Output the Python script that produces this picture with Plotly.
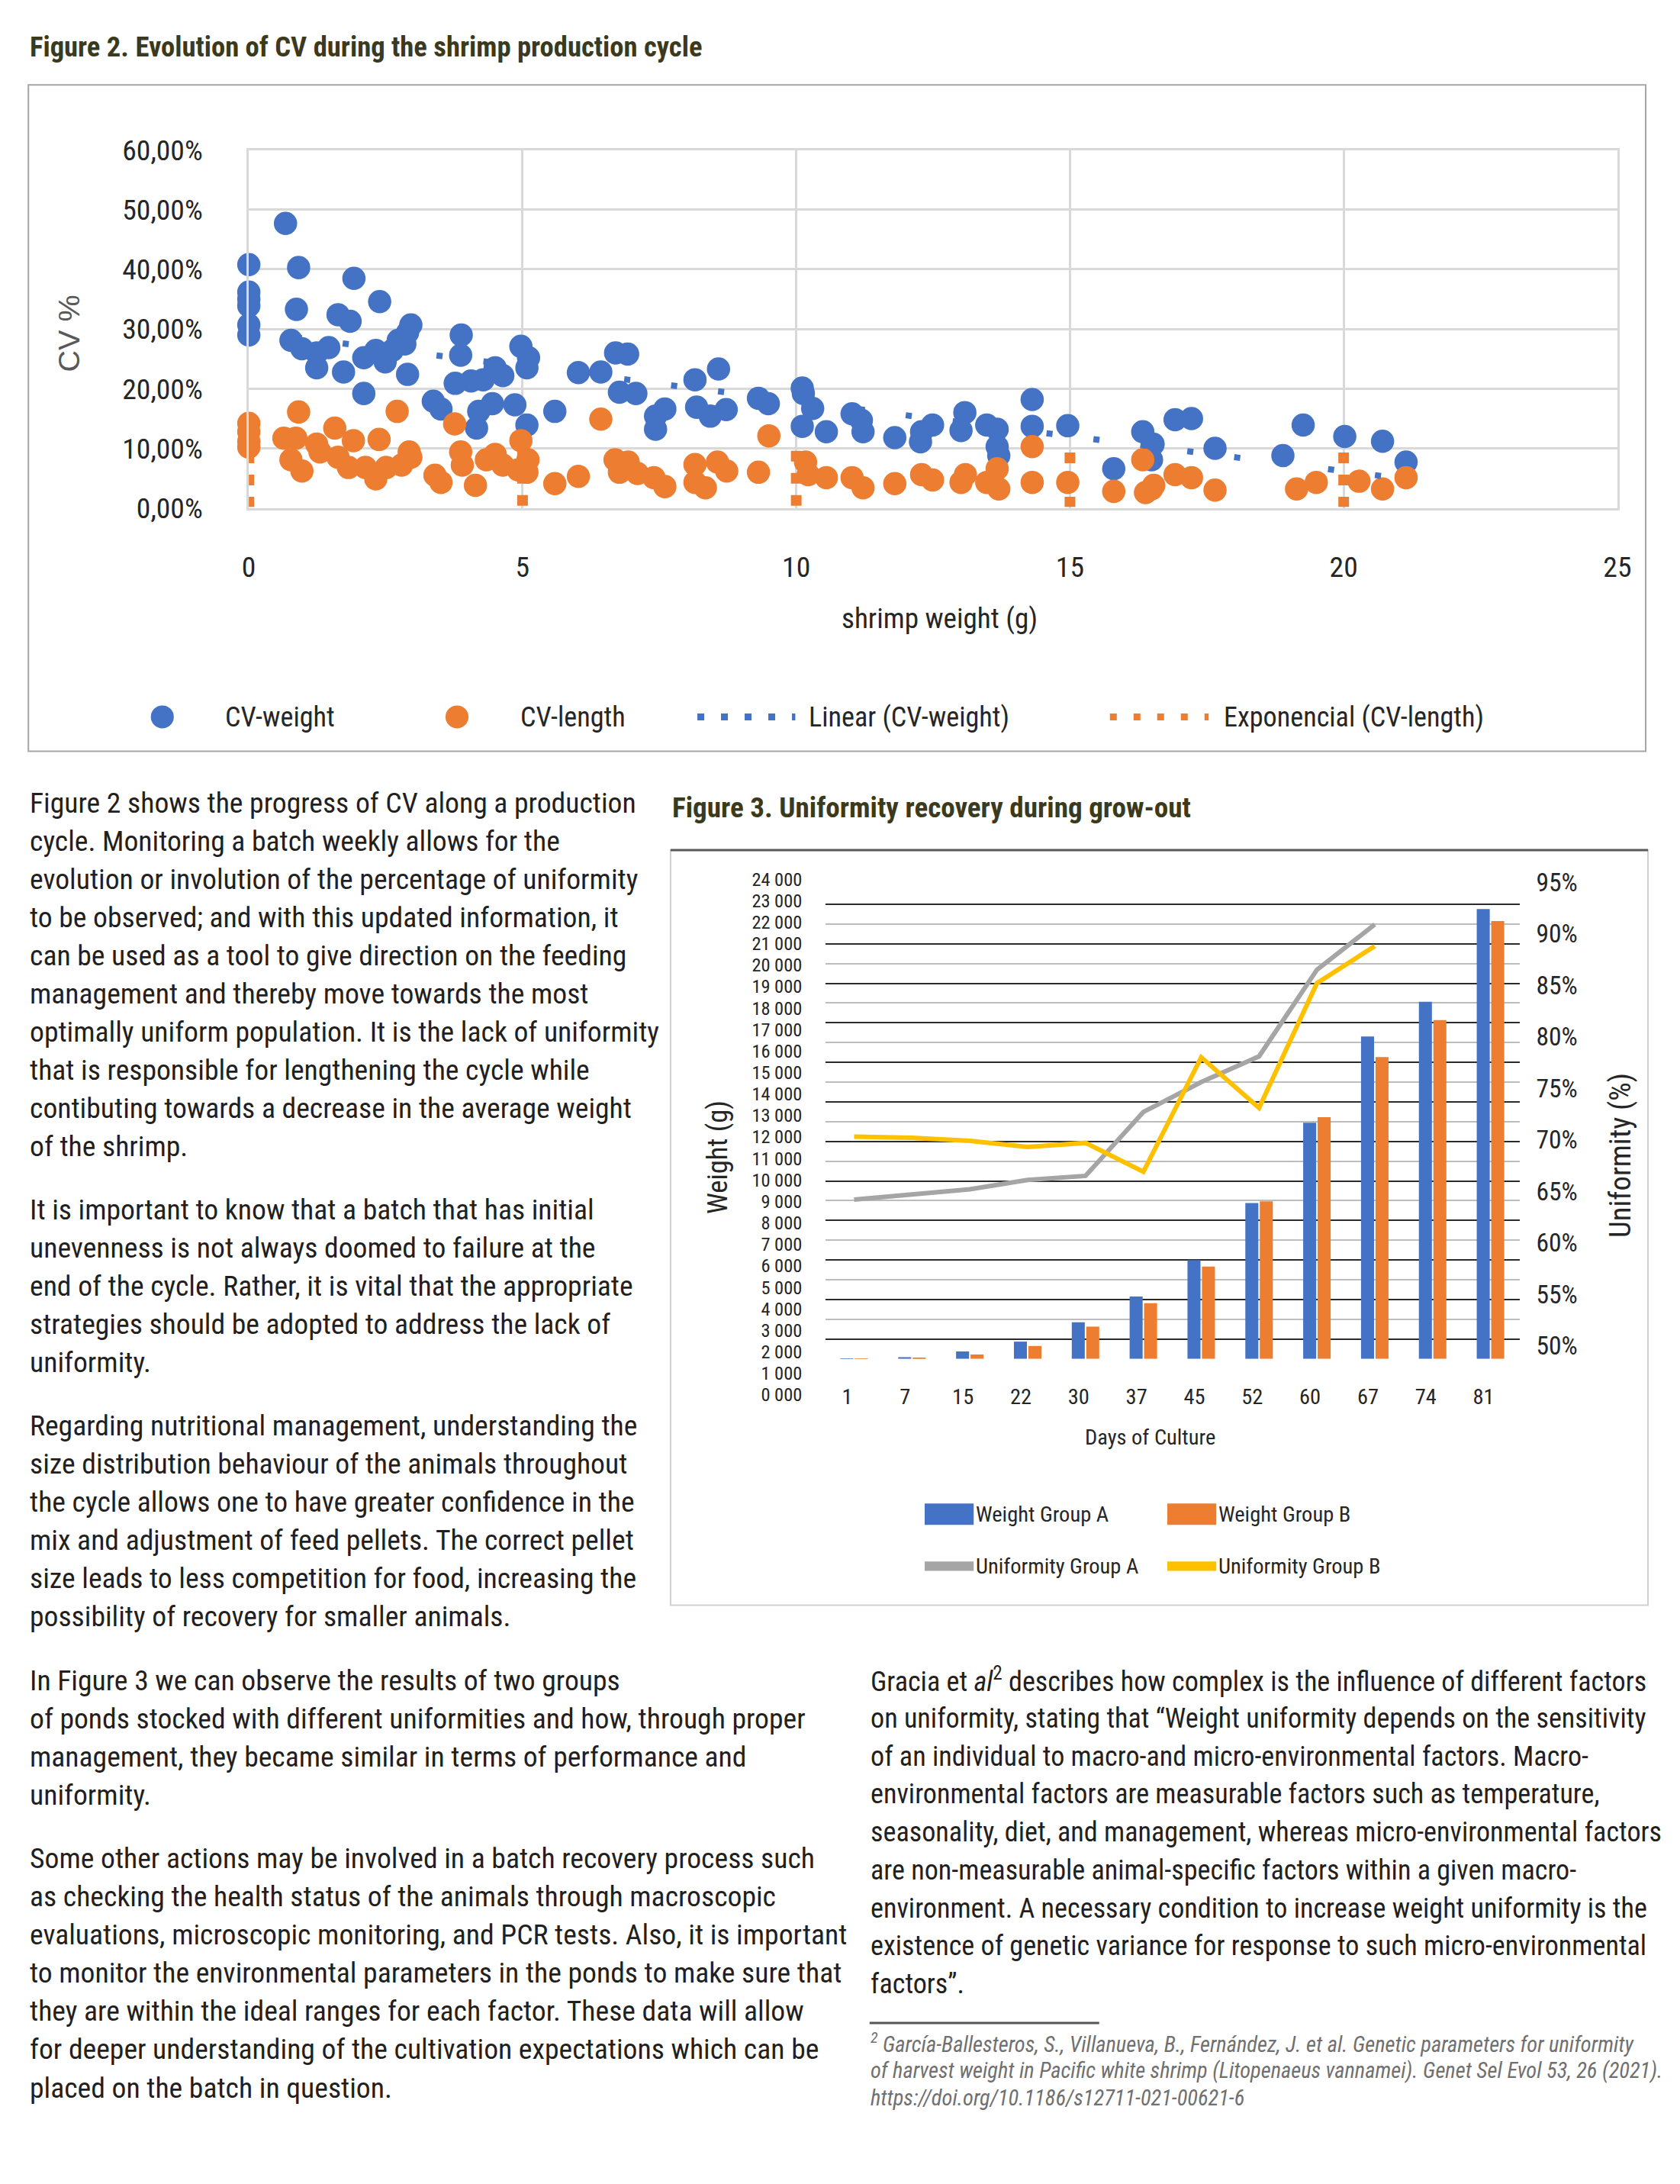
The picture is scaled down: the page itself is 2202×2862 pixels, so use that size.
import plotly.graph_objects as go

# The page is 2202 x 2862 and the html body adds an 8 px margin, so the figure is 16 px
# smaller.  The photographed page is also slightly reduced and offset; positions below are
# given in reference-picture pixels and mapped back through that reduction.
BODY_MARGIN = 8
W, H = 2202 - 2 * BODY_MARGIN, 2862 - 2 * BODY_MARGIN
SX, SY = 0.984, 0.982      # reduction of the photograph
OX, OY = 10.0, 21.0        # offset of the photograph
K = 1 / 0.983              # size correction for the reduction


def px(x):
    return ((x - OX) / SX - BODY_MARGIN) / W


def py(y):
    return 1 - ((y - OY) / SY - BODY_MARGIN) / H


def s(v):
    return v * K


# ---------------- Figure 2 data (CV % vs shrimp weight) ----------------
cvw_x = [0, 0, 0, 0, 0, 0,
         0.67, 0.91, 0.87, 1.92, 2.39, 1.63, 1.85, 2.96, 2.9, 0.77, 0.97, 1.24, 1.46, 1.24,
         1.73, 2.1, 2.32, 2.49, 2.62, 2.73, 2.85, 2.9, 2.1, 3.88, 3.87, 3.77, 4.06, 4.28, 4.5,
         4.64, 3.37, 3.51, 4.2, 4.45, 4.16, 4.86, 4.97, 5.11, 5.08, 5.08, 5.59, 6.02, 6.43,
         6.7, 6.92, 6.77, 7.07, 7.6, 7.43, 7.43, 8.15, 8.58, 8.18, 8.43, 8.72, 9.31, 9.49,
         10.11, 10.13, 10.3, 10.11, 10.55, 11.02, 11.19, 11.22, 11.8, 12.29, 12.49, 12.27,
         13.08, 13.01, 13.48, 13.67, 13.67, 13.7, 14.31, 14.31, 14.96, 15.8, 16.33, 16.52,
         16.49, 16.92, 17.22, 17.65, 18.89, 19.26, 20.02, 20.71, 21.14]
cvw_y = [40.8, 36.2, 35.0, 33.9, 30.7, 29.0,
         47.7, 40.3, 33.3, 38.5, 34.6, 32.4, 31.3, 30.7, 29.4, 28.1, 26.7, 26.0, 26.9, 23.5,
         22.8, 25.2, 26.4, 24.5, 26.4, 28.1, 27.5, 22.4, 19.2, 29.0, 25.6, 20.9, 21.3, 21.5, 23.5,
         22.2, 17.9, 16.6, 16.2, 17.5, 13.4, 17.3, 27.1, 25.2, 23.5, 13.9, 16.2, 22.7, 22.8,
         26.0, 25.8, 19.4, 19.2, 16.6, 15.4, 13.2, 21.5, 23.3, 16.9, 15.4, 16.5, 18.4, 17.5,
         20.1, 19.2, 16.7, 13.7, 12.8, 15.8, 14.7, 12.8, 11.8, 12.8, 13.9, 11.1,
         16.0, 13.0, 13.9, 13.2, 10.3, 8.8, 18.2, 13.7, 13.8, 6.6, 12.8, 10.7,
         8.1, 14.8, 15.0, 10.0, 8.8, 13.9, 12.0, 11.2, 7.7]

cvl_x = [0, 0, 0, 0,
         0.91, 2.71, 0.64, 0.86, 1.24, 1.57, 1.91, 2.38, 0.77, 0.97, 1.3, 1.63, 1.82, 2.13,
         2.32, 2.51, 2.79, 2.96, 2.93, 3.76, 3.4, 3.51, 3.87, 3.9, 4.14, 4.34, 4.5, 4.64,
         4.97, 5.1, 4.92, 5.08, 5.59, 6.02, 6.43, 6.69, 6.93, 6.77, 7.1, 7.4, 7.6,
         8.15, 8.56, 8.73, 8.34, 8.15, 9.31, 9.5, 10.17, 10.22, 10.55, 11.02, 11.22, 11.8,
         12.29, 12.49, 13.01, 13.09, 13.48, 13.67, 13.7, 14.31, 14.31, 14.96, 15.8, 16.33,
         16.49, 16.38, 16.53, 16.92, 17.22, 17.65, 19.14, 19.5, 20.28, 20.71, 21.14]
cvl_y = [14.2, 12.8, 11.2, 10.2,
         16.1, 16.2, 11.7, 11.7, 10.7, 13.4, 11.3, 11.5, 8.1, 6.2, 9.4, 8.5, 6.8, 6.8,
         4.9, 6.8, 7.2, 8.5, 9.4, 14.1, 5.5, 4.3, 9.4, 7.2, 3.8, 8.1, 9.0, 7.2,
         11.3, 8.1, 6.4, 6.0, 4.1, 5.3, 14.9, 8.1, 7.7, 6.0, 5.8, 5.1, 3.6,
         7.3, 7.7, 6.2, 3.4, 4.3, 6.0, 12.1, 7.7, 5.6, 5.1, 5.1, 3.4, 4.1,
         5.6, 4.7, 4.3, 5.6, 4.3, 6.6, 3.2, 10.3, 4.3, 4.3, 2.8, 8.1,
         3.2, 2.6, 3.8, 5.6, 5.1, 3.0, 3.2, 4.3, 4.5, 3.2, 5.1]

lin_x = [0, 21.1]
lin_y = [29.6, 4.9]

exp_x = [0, 5, 10, 15, 20]
exp_top = [9.3, 9.6, 9.6, 9.3, 9.3]
exp_bottom = [0.2, 0.2, 0.2, 0.2, 0.2]

fig2_xticks = [0, 5, 10, 15, 20, 25]
fig2_yticks = [0, 10, 20, 30, 40, 50, 60]
fig2_yticktext = ["0,00%", "10,00%", "20,00%", "30,00%", "40,00%", "50,00%", "60,00%"]

# ---------------- Figure 3 data (uniformity recovery) ----------------
days = ["1", "7", "15", "22", "30", "37", "45", "52", "60", "67", "74", "81"]
weight_a = [10, 80, 370, 870, 1850, 3150, 5000, 7880, 11950, 16310, 18070, 22760]
weight_b = [5, 30, 220, 650, 1630, 2820, 4670, 7970, 12230, 15270, 17140, 22150]
unif_days = ["1", "7", "15", "22", "30", "37", "45", "52", "60", "67"]
unif_a = [64.2, 64.7, 65.2, 66.1, 66.5, 72.7, 75.6, 78.1, 86.5, 90.9]
unif_b = [70.3, 70.2, 69.9, 69.3, 69.7, 66.9, 78.0, 73.1, 85.2, 88.8]
weight_ticks = [0, 1000, 2000, 3000, 4000, 5000, 6000, 7000, 8000, 9000, 10000, 11000, 12000,
                13000, 14000, 15000, 16000, 17000, 18000, 19000, 20000, 21000, 22000, 23000, 24000]
weight_ticktext = ["0 000", "1 000", "2 000", "3 000", "4 000", "5 000", "6 000", "7 000",
                   "8 000", "9 000", "10 000", "11 000", "12 000", "13 000", "14 000", "15 000",
                   "16 000", "17 000", "18 000", "19 000", "20 000", "21 000", "22 000",
                   "23 000", "24 000"]
unif_ticks = [50, 55, 60, 65, 70, 75, 80, 85, 90, 95]
unif_ticktext = ["50%", "55%", "60%", "65%", "70%", "75%", "80%", "85%", "90%", "95%"]

BLUE = "#4472C4"
ORANGE = "#ED7D31"
GRAY = "#A5A5A5"
GOLD = "#FFC000"
COND = "Roboto Condensed, Roboto, sans-serif"
SANS = "Liberation Sans, Arial, sans-serif"
TXT = "#231f20"
OLIVE = "#3b3a1d"
LBL = "#262626"

fig = go.Figure()

# --- Figure 2 traces ---
fig.add_trace(go.Scatter(x=cvw_x, y=cvw_y, mode="markers", name="CV-weight",
                         marker=dict(color=BLUE, size=s(30), line=dict(width=0)),
                         cliponaxis=False, xaxis="x", yaxis="y", showlegend=False))
fig.add_trace(go.Scatter(x=cvl_x, y=cvl_y, mode="markers", name="CV-length",
                         marker=dict(color=ORANGE, size=s(30), line=dict(width=0)),
                         cliponaxis=False, xaxis="x", yaxis="y", showlegend=False))
fig.add_trace(go.Scatter(x=lin_x, y=lin_y, mode="lines", name="Linear (CV-weight)",
                         line=dict(color=BLUE, width=8, dash="8px,54px"),
                         xaxis="x", yaxis="y", showlegend=False))
ex, ey = [], []
for xv, t, b in zip(exp_x, exp_top, exp_bottom):
    ex += [xv, xv, None]
    ey += [t, b, None]
fig.add_trace(go.Scatter(x=ex, y=ey, mode="lines", name="Exponencial (CV-length)",
                         line=dict(color=ORANGE, width=14, dash="14px,15px"),
                         cliponaxis=False, xaxis="x", yaxis="y", showlegend=False))

# --- Figure 3 traces ---
fig.add_trace(go.Bar(x=days, y=weight_a, name="Weight Group A", marker_color=BLUE,
                     marker_line_width=0, xaxis="x2", yaxis="y3", showlegend=False))
fig.add_trace(go.Bar(x=days, y=weight_b, name="Weight Group B", marker_color=ORANGE,
                     marker_line_width=0, xaxis="x2", yaxis="y3", showlegend=False))
fig.add_trace(go.Scatter(x=unif_days, y=unif_a, mode="lines", name="Uniformity Group A",
                         line=dict(color=GRAY, width=6), xaxis="x2", yaxis="y2",
                         showlegend=False))
fig.add_trace(go.Scatter(x=unif_days, y=unif_b, mode="lines", name="Uniformity Group B",
                         line=dict(color=GOLD, width=6), xaxis="x2", yaxis="y2",
                         showlegend=False))
# axes that carry the tick labels of Figure 3 as printed (no marks)
fig.add_trace(go.Scatter(x=[], y=[], xaxis="x3", yaxis="y4", showlegend=False,
                         hoverinfo="skip"))
fig.add_trace(go.Scatter(x=[], y=[], xaxis="x3", yaxis="y5", showlegend=False,
                         hoverinfo="skip"))

fig.update_layout(
    width=W, height=H, autosize=False,
    margin=dict(l=0, r=0, t=0, b=0),
    paper_bgcolor="white", plot_bgcolor="rgba(0,0,0,0)",
    barmode="group", bargap=0.5, bargroupgap=0.1,
    showlegend=False,
    xaxis=dict(domain=[px(326), px(2114)], range=[0, 25], anchor="y",
               tickvals=fig2_xticks, ticks="outside", ticklen=s(41),
               tickcolor="rgba(0,0,0,0)",
               tickfont=dict(family=COND, size=s(37), color=LBL),
               showgrid=True, gridcolor="#d9d9d9", gridwidth=3,
               showline=True, mirror=True, linecolor="#d9d9d9", linewidth=3,
               zeroline=False),
    yaxis=dict(domain=[py(663), py(195)], range=[0, 60], anchor="x",
               tickvals=fig2_yticks, ticktext=fig2_yticktext, ticks="outside",
               ticklen=s(49), tickcolor="rgba(0,0,0,0)",
               tickfont=dict(family=COND, size=s(37), color=LBL),
               showgrid=True, gridcolor="#d9d9d9", gridwidth=3,
               showline=True, mirror=True, linecolor="#d9d9d9", linewidth=3,
               zeroline=False),
    xaxis2=dict(domain=[px(1079), px(1986)], anchor="y3", type="category",
                categoryorder="array", categoryarray=days, range=[-0.5, 11.5],
                showgrid=False, zeroline=False, showline=False,
                ticks="outside", ticklen=s(24), tickcolor="rgba(0,0,0,0)",
                ticklabelshift=-9,
                tickfont=dict(family=COND, size=s(28), color=LBL)),
    yaxis3=dict(domain=[py(1775), py(1155)], range=[0, 24000], anchor="x2",
                showticklabels=False, tick0=0, dtick=2000,
                showgrid=True, gridcolor="#bdbdbd", gridwidth=2,
                minor=dict(tick0=0, dtick=1000, showgrid=True, gridcolor="#2b2b2b",
                           gridwidth=2),
                zeroline=False, showline=False),
    yaxis2=dict(overlaying="y3", side="right", anchor="x2",
                range=[48.74, 94.78], showticklabels=False, ticks="",
                showgrid=False, zeroline=False, showline=False),
    xaxis3=dict(domain=[px(1079), px(1986)], anchor="y4", visible=False),
    yaxis4=dict(domain=[py(1822), py(1148)], range=[0, 24000], anchor="free",
                position=px(1079), tickvals=weight_ticks, ticktext=weight_ticktext,
                showgrid=False, zeroline=False, showline=False,
                ticks="outside", ticklen=s(25), tickcolor="rgba(0,0,0,0)",
                tickfont=dict(family=COND, size=s(24), color=LBL)),
    yaxis5=dict(domain=[py(1758), py(1152)], range=[50, 95], anchor="free",
                position=px(1986), side="right", tickvals=unif_ticks,
                ticktext=unif_ticktext,
                showgrid=False, zeroline=False, showline=False,
                ticks="outside", ticklen=s(14), tickcolor="rgba(0,0,0,0)",
                tickfont=dict(family=COND, size=s(33), color=LBL)),
)

shapes = []
ann = []


def text(x, y, t, size, color=TXT, family=COND, xanchor="left", angle=0):
    ann.append(dict(x=px(x), y=py(y), xref="paper", yref="paper", text=t,
                    showarrow=False, xanchor=xanchor, yanchor="middle",
                    textangle=angle, font=dict(family=family, size=s(size), color=color)))


def rect(x0, y0, x1, y1, line=None, fill=None, width=2):
    shapes.append(dict(type="rect", xref="paper", yref="paper",
                       x0=px(x0), x1=px(x1), y0=py(y1), y1=py(y0),
                       line=dict(color=line or "rgba(0,0,0,0)", width=width if line else 0),
                       fillcolor=fill or "rgba(0,0,0,0)", layer="below" if not fill else "above"))


def hline(x0, x1, y, color, width, dash="solid"):
    shapes.append(dict(type="line", xref="paper", yref="paper",
                       x0=px(x0), x1=px(x1), y0=py(y), y1=py(y),
                       line=dict(color=color, width=width, dash=dash)))


def circle(cx, cy, r, color):
    shapes.append(dict(type="circle", xref="paper", yref="paper",
                       x0=px(cx - r), x1=px(cx + r), y0=py(cy + r), y1=py(cy - r),
                       line=dict(width=0), fillcolor=color))


# ---- Figure 2 frame, titles, legend ----
rect(38, 110, 2151, 981, line="#a6a6a6", width=2)
text(38, 60, "<b>Figure 2. Evolution of CV during the shrimp production cycle</b>", 36, OLIVE)
text(91, 435, "CV %", 39, "#595959", SANS, "center", -90)
text(1228, 807, "shrimp weight (g)", 36.5, LBL, xanchor="center")
circle(213, 936, 15, BLUE)
text(293, 936, "CV-weight", 35.5, LBL)
circle(598, 936, 15, ORANGE)
text(679, 936, "CV-length", 35.5, LBL)
hline(912, 1040, 936, BLUE, 9, "9px,22px")
text(1056, 936, "Linear (CV-weight)", 35.5, LBL)
hline(1451, 1580, 936, ORANGE, 9, "9px,22px")
text(1598, 936, "Exponencial (CV-length)", 35.5, LBL)

# ---- Figure 3 frame, titles, legend ----
rect(877, 1110, 2154, 2097, line="#d0d0d0", width=2)
hline(877, 2154, 1110, "#595959", 3)
text(877, 1055, "<b>Figure 3. Uniformity recovery during grow-out</b>", 36.5, OLIVE)
text(939, 1512, "Weight (g)", 36, LBL, xanchor="center", angle=-90)
text(2118, 1509, "Uniformity (%)", 38, LBL, xanchor="center", angle=-90)
text(1504, 1878, "Days of Culture", 28, LBL, xanchor="center")
rect(1209, 1964, 1273, 1992, fill=BLUE)
text(1274, 1978, "Weight Group A", 28, LBL)
rect(1526, 1964, 1590, 1992, fill=ORANGE)
text(1591, 1978, "Weight Group B", 28, LBL)
rect(1209, 2040, 1273, 2052, fill=GRAY)
text(1274, 2046, "Uniformity Group A", 28, LBL)
rect(1526, 2040, 1590, 2052, fill=GOLD)
text(1591, 2046, "Uniformity Group B", 28, LBL)

# ---- Body text ----
para1 = ["Figure 2 shows the progress of CV along a production",
         "cycle. Monitoring a batch weekly allows for the",
         "evolution or involution of the percentage of uniformity",
         "to be observed; and with this updated information, it",
         "can be used as a tool to give direction on the feeding",
         "management and thereby move towards the most",
         "optimally uniform population. It is the lack of uniformity",
         "that is responsible for lengthening the cycle while",
         "contibuting towards a decrease in the average weight",
         "of the shrimp."]
para2 = ["It is important to know that a batch that has initial",
         "unevenness is not always doomed to failure at the",
         "end of the cycle. Rather, it is vital that the appropriate",
         "strategies should be adopted to address the lack of",
         "uniformity."]
para3 = ["Regarding nutritional management, understanding the",
         "size distribution behaviour of the animals throughout",
         "the cycle allows one to have greater confidence in the",
         "mix and adjustment of feed pellets. The correct pellet",
         "size leads to less competition for food, increasing the",
         "possibility of recovery for smaller animals."]
para4 = ["In Figure 3 we can observe the results of two groups",
         "of ponds stocked with different uniformities and how, through proper",
         "management, they became similar in terms of performance and",
         "uniformity."]
para5 = ["Some other actions may be involved in a batch recovery process such",
         "as checking the health status of the animals through macroscopic",
         "evaluations, microscopic monitoring, and PCR tests. Also, it is important",
         "to monitor the environmental parameters in the ponds to make sure that",
         "they are within the ideal ranges for each factor. These data will allow",
         "for deeper understanding of the cultivation expectations which can be",
         "placed on the batch in question."]
para6 = ["Gracia et <i>al</i><sup>2</sup> describes how complex is the influence of different factors",
         "on uniformity, stating that “Weight uniformity depends on the sensitivity",
         "of an individual to macro-and micro-environmental factors. Macro-",
         "environmental factors are measurable factors such as temperature,",
         "seasonality, diet, and management, whereas micro-environmental factors",
         "are non-measurable animal-specific factors within a given macro-",
         "environment. A necessary condition to increase weight uniformity is the",
         "existence of genetic variance for response to such micro-environmental",
         "factors”."]
foot = ["<i><sup>2</sup> García-Ballesteros, S., Villanueva, B., Fernández, J. et al. Genetic parameters for uniformity</i>",
        "<i>of harvest weight in Pacific white shrimp (Litopenaeus vannamei). Genet Sel Evol 53, 26 (2021).</i>",
        "<i>https://doi.org/10.1186/s12711-021-00621-6</i>"]

for start, lines in [(1048, para1), (1580, para2), (1862, para3), (2195, para4), (2428, para5)]:
    for i, t in enumerate(lines):
        text(38, start + i * 49.9, t, 37)
for i, t in enumerate(para6):
    text(1136, 2195 + i * 49.6, t, 35.5)
hline(1137, 1437, 2643, "#555555", 3)
for i, t in enumerate(foot):
    text(1136, 2670 + i * 35.5, t, 28, "#707070")

fig.update_layout(shapes=shapes, annotations=ann)
fig.write_html("out.html")
